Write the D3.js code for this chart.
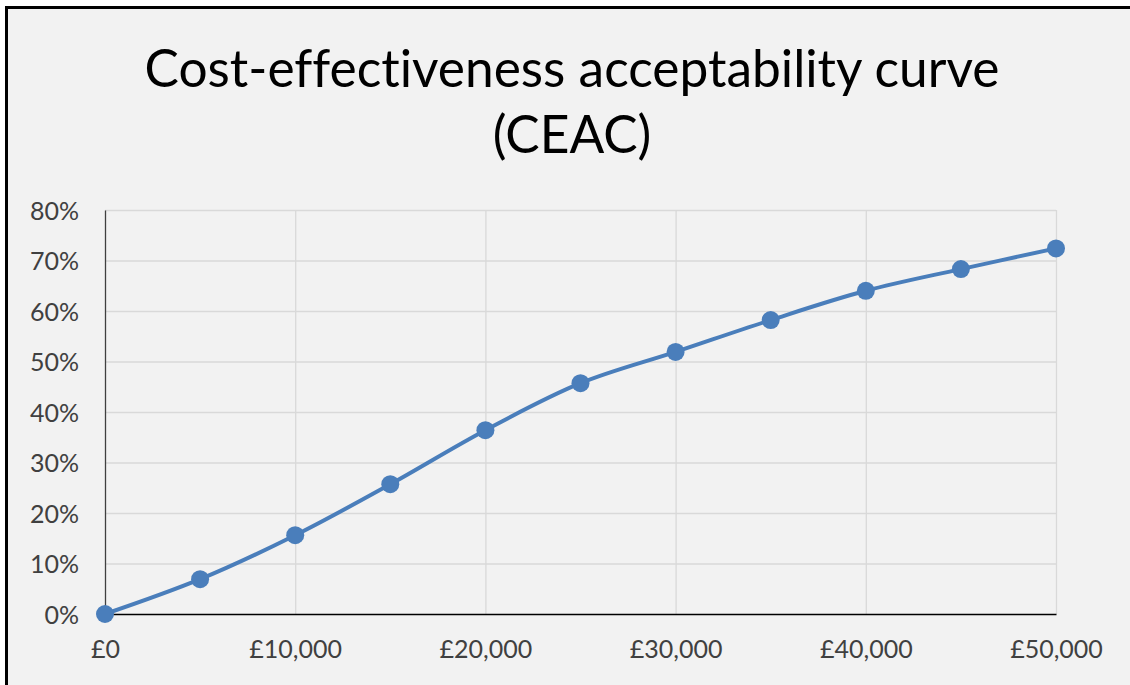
<!DOCTYPE html>
<html>
<head>
<meta charset="utf-8">
<script src="https://cdn.jsdelivr.net/npm/d3@7"></script>
<style>
  body { margin: 0; background: #ffffff; }
  svg { font-variant-ligatures: none; }
  .grid line { stroke: #d9d9d9; stroke-width: 1.3px; }
  .grid path { display: none; }
  .tick text { font-family: Lato, "Open Sans", sans-serif; fill: #404040; }
</style>
</head>
<body>
<div id="chart-area"></div>
<script>
// Data
var wtpValues = [0, 5000, 10000, 15000, 20000, 25000, 30000, 35000, 40000, 45000, 50000];
var probValues = [0.000, 0.069, 0.156, 0.257, 0.364, 0.457, 0.519, 0.582, 0.640, 0.683, 0.724];
var xTicks = [0, 10000, 20000, 30000, 40000, 50000];
var yTicks = [0, 0.1, 0.2, 0.3, 0.4, 0.5, 0.6, 0.7, 0.8];
var titleLines = ["Cost-effectiveness acceptability curve", "(CEAC)"];

var data = wtpValues.map(function(d, i) { return { wtp: d, p: probValues[i] }; });

var W = 1130, H = 685;
var margin = { left: 105, right: 74, top: 210, bottom: 71 },
    width = W - margin.left - margin.right,
    height = H - margin.top - margin.bottom;

var svg = d3.select("#chart-area").append("svg")
    .attr("width", W)
    .attr("height", H);

// chart background + frame (only left/top edges are visible in the crop)
svg.append("rect")
    .attr("x", 0).attr("y", 0)
    .attr("width", W).attr("height", H)
    .attr("fill", "#ffffff");
svg.append("rect")
    .attr("x", 8).attr("y", 9)
    .attr("width", W).attr("height", H)
    .attr("fill", "#f2f2f2");
svg.append("path")
    .attr("d", "M6.5," + H + "V7.5H" + W)
    .attr("fill", "none")
    .attr("stroke", "#000")
    .attr("stroke-width", 3);

// Title
var title = svg.append("g")
    .attr("font-family", "Lato, 'Open Sans', sans-serif")
    .attr("fill", "#000")
    .attr("text-anchor", "middle");
var t1 = title.append("text")
    .attr("x", 572).attr("y", 87)
    .attr("font-size", "50px")
    .text(titleLines[0]);
var fs = 50 * 855 / t1.node().getComputedTextLength();
t1.attr("font-size", fs + "px");
title.append("text")
    .attr("x", 572).attr("y", 153)
    .attr("font-size", fs + "px")
    .text(titleLines[1]);

var g = svg.append("g")
    .attr("transform", "translate(" + margin.left + "," + margin.top + ")");

// Scales
var x = d3.scaleLinear().domain([0, 50000]).range([0, width]);
var y = d3.scaleLinear().domain([0, 0.8]).range([height, 0]);

// Gridlines
g.append("g")
    .attr("class", "grid")
    .call(d3.axisLeft(y).tickValues(yTicks.slice(1)).tickSize(-width).tickFormat(""));
g.append("g")
    .attr("class", "grid")
    .attr("transform", "translate(0," + height + ")")
    .call(d3.axisBottom(x).tickValues(xTicks.slice(1)).tickSize(-height).tickFormat(""));

// Axes
var gbp = d3.format(",");
var xAxis = g.append("g")
    .attr("transform", "translate(0," + height + ")")
    .call(d3.axisBottom(x).tickValues(xTicks).tickSize(0).tickPadding(26)
        .tickFormat(function(d) { return "£" + gbp(d); }));
xAxis.select(".domain").attr("stroke", "#000").attr("stroke-width", 1.6);
xAxis.selectAll("text").attr("font-size", "25px");

var yAxis = g.append("g")
    .call(d3.axisLeft(y).tickValues(yTicks).tickSize(0).tickPadding(26)
        .tickFormat(d3.format(".0%")));
yAxis.select(".domain").attr("stroke", "#404040").attr("stroke-width", 1.3);
yAxis.selectAll("text").attr("font-size", "25px").attr("dy", "0.36em");

// Line
var line = d3.line()
    .x(function(d) { return x(d.wtp); })
    .y(function(d) { return y(d.p); })
    .curve(d3.curveCatmullRom);

g.append("path")
    .attr("fill", "none")
    .attr("stroke", "#4a7ebb")
    .attr("stroke-width", 4)
    .attr("d", line(data));

g.selectAll(".dot")
    .data(data)
    .enter().append("circle")
    .attr("class", "dot")
    .attr("cx", function(d) { return x(d.wtp); })
    .attr("cy", function(d) { return y(d.p); })
    .attr("r", 9)
    .attr("fill", "#4a7ebb");
</script>
</body>
</html>
